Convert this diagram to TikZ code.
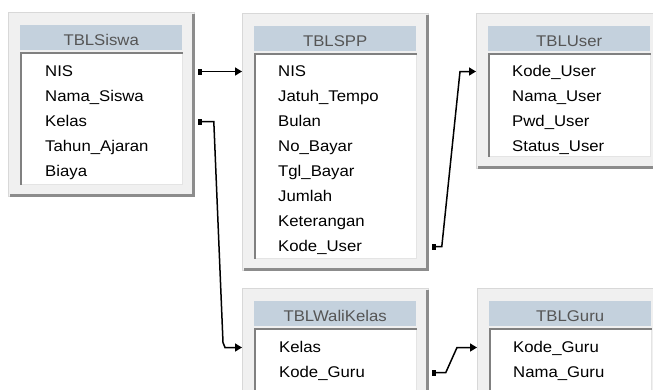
\documentclass[tikz,border=0pt]{standalone}
\usepackage{fontspec}
\setmainfont[FakeStretch=1.08]{Liberation Sans}
\usetikzlibrary{arrows.meta,calc}
\definecolor{boxbg}{HTML}{F0F0F0}
\definecolor{shadowc}{HTML}{8C8C8C}
\definecolor{titlebg}{HTML}{C4D1DD}
\definecolor{titletxt}{HTML}{555555}
\definecolor{edgec}{HTML}{D8D8D8}
\definecolor{innerlight}{HTML}{E4E4E4}
\definecolor{innerdarkc}{HTML}{808080}
\newcommand\mktable[5]{%
  \node[outerbox, minimum height=#4pt] (#1) at (#2,#3) {};
  \draw[shadowline] ([shift={(-1.5,2)}]#1.north east) -- ([shift={(-1.5,-1.5)}]#1.south east) -- ([shift={(2,-1.5)}]#1.south west);
  \node[titlebar] (#1T) at ([shift={(12,13)}]#1.north west) {#5};
  \node[innerbox, minimum height=#4pt-53pt] (#1L) at ([shift={(13,41)}]#1.north west) {};
  \draw[innerdark] (#1L.south west) -- (#1L.north west) -- (#1L.north east);
}
\begin{document}
\begin{tikzpicture}[x=1pt,y=-1pt,
  outerbox/.style={fill=boxbg, draw=edgec, line width=0.8pt, inner sep=0pt, anchor=north west, minimum width=186pt},
  shadowline/.style={draw=shadowc, line width=3pt},
  titlebar/.style={fill=titlebg, anchor=north west, minimum width=162pt, minimum height=25pt, inner sep=0pt, text height=15pt, text depth=0pt, text=titletxt, font=\fontsize{15.5}{18}\selectfont},
  innerbox/.style={fill=white, draw=innerlight, line width=0.8pt, anchor=north west, minimum width=161pt, inner sep=0pt},
  innerdark/.style={draw=innerdarkc, line width=2pt},
  fld/.style={anchor=base west, inner sep=0pt, text height=12pt, text depth=3pt, font=\fontsize{15.5}{18}\selectfont},
  conn/.style={line width=1.5pt, {Square[length=4pt,width=6pt]}-{Triangle[length=7pt,width=8pt]}}
]
\useasboundingbox (0,0) rectangle (653,389);
\clip (0,0) rectangle (653,389);
\fill[white] (0,0) rectangle (653,389);

\mktable{siswa}{8}{12}{184}{TBLSiswa}
\mktable{spp}{242}{13}{257}{TBLSPP}
\mktable{user}{476}{13}{155}{TBLUser}
\mktable{wali}{242}{288}{130}{TBLWaliKelas}
\mktable{guru}{477}{288}{130}{TBLGuru}

\node[fld] (sNIS) at (45,76) {NIS};
\node[fld] (sNama) at (45,101) {Nama\_Siswa};
\node[fld] (sKelas) at (45,126) {Kelas};
\node[fld] (sTahun) at (45,151) {Tahun\_Ajaran};
\node[fld] (sBiaya) at (45,176) {Biaya};

\node[fld] (pNIS) at (278,76) {NIS};
\node[fld] (pJatuh) at (278,101) {Jatuh\_Tempo};
\node[fld] (pBulan) at (278,126) {Bulan};
\node[fld] (pNo) at (278,151) {No\_Bayar};
\node[fld] (pTgl) at (278,176) {Tgl\_Bayar};
\node[fld] (pJumlah) at (278,201) {Jumlah};
\node[fld] (pKet) at (278,226) {Keterangan};
\node[fld] (pKode) at (278,251) {Kode\_User};

\node[fld] (uKode) at (512,76) {Kode\_User};
\node[fld] (uNama) at (512,101) {Nama\_User};
\node[fld] (uPwd) at (512,126) {Pwd\_User};
\node[fld] (uStatus) at (512,151) {Status\_User};

\node[fld] (wKelas) at (279,352) {Kelas};
\node[fld] (wKode) at (279,377) {Kode\_Guru};

\node[fld] (gKode) at (513,352) {Kode\_Guru};
\node[fld] (gNama) at (513,377) {Nama\_Guru};

\draw[conn] ($(siswa.east |- sNIS)+(3,0)$) -- (spp.west |- pNIS);
\draw[conn] ($(siswa.east |- sKelas)+(3,0)$) -- ($(siswa.east |- sKelas)+(19,0)$)
  -- ($(wali.west |- wKelas)+(-19,-5)$) -- ($(wali.west |- wKelas)+(-17,0)$) -- (wali.west |- wKelas);
\draw[conn] ($(spp.east |- pKode)+(3,0)$) -- ($(spp.east |- pKode)+(13,0)$)
  -- ($(user.west |- uKode)+(-16,0)$) -- (user.west |- uKode);
\draw[conn] ($(wali.east |- wKode)+(3,0)$) -- ($(wali.east |- wKode)+(17,0)$)
  -- ($(guru.west |- gKode)+(-20,0)$) -- (guru.west |- gKode);
\end{tikzpicture}
\end{document}
